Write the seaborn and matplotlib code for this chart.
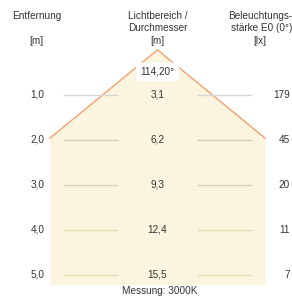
import matplotlib
matplotlib.use("Agg")
from matplotlib import pyplot as plt
import numpy as np
import pandas as pd
import seaborn as sns

# values
distance = [1.0, 2.0, 3.0, 4.0, 5.0]
distance_labels = ["1,0", "2,0", "3,0", "4,0", "5,0"]
diameter = [3.1, 6.2, 9.3, 12.4, 15.5]
diameter_labels = ["3,1", "6,2", "9,3", "12,4", "15,5"]
lux = [179, 45, 20, 11, 7]
beam_angle = "114,20°"
measurement = "Messung: 3000K"

sns.set_theme(style="white")
plt.rcParams['font.family'] = ['Liberation Sans', 'DejaVu Sans']

fig = plt.figure(figsize=(2.92, 2.96), dpi=100)
ax = fig.add_axes([0, 0, 1, 1])
ax.set_xlim(-4.45, 3.80)
ax.set_ylim(5.47, -1.11)
ax.axis("off")

txt = "#333333"
fill_col = "#fbf5df"
edge_col = "#f2a06e"

# cone: half width grows with the diameter per metre, clipped at the sides
half = diameter[0] / 2
x_edge = 3.04
d_edge = x_edge / half
d_bottom = 5.22
ys = np.array([0.0, d_edge, d_bottom])
xs = np.minimum(half * ys, x_edge)
ax.fill_betweenx(ys, -xs, xs, color=fill_col, lw=0, zorder=1)

edges = pd.DataFrame({
    "x": [0, -x_edge, 0, x_edge],
    "y": [0, d_edge, 0, d_edge],
    "side": ["l", "l", "r", "r"],
})
sns.lineplot(data=edges, x="x", y="y", units="side", estimator=None, sort=False,
             color=edge_col, lw=1.0, ax=ax, zorder=2, legend=False)

# guide lines at each distance
line_cols = ["#d6d6d6", "#cfd2b2", "#dad4b8", "#e6dcb2", "#e6dcb2"]
for d, c in zip(distance, line_cols):
    ax.hlines(d, -2.67, -1.12, color=c, lw=1.0, zorder=2)
    ax.hlines(d, 1.12, 2.67, color=c, lw=1.0, zorder=2)

fs = 7.2
for d, dl, dm, lx in zip(distance, distance_labels, diameter_labels, lux):
    ax.text(-3.39, d, dl, ha="center", va="center", fontsize=fs, color=txt, zorder=3)
    ax.text(0, d, dm, ha="center", va="center", fontsize=fs, color=txt, zorder=3)
    ax.text(3.74, d, str(lx), ha="right", va="center", fontsize=fs, color=txt, zorder=3)

# headers
ax.text(-3.42, -0.756, "Entfernung", ha="center", va="center", fontsize=fs, color=txt)
ax.text(-3.42, -0.2, "[m]", ha="center", va="center", fontsize=fs, color=txt)
ax.text(0, -0.756, "Lichtbereich /", ha="center", va="center", fontsize=fs, color=txt)
ax.text(0, -0.478, "Durchmesser", ha="center", va="center", fontsize=fs, color=txt)
ax.text(0, -0.2, "[m]", ha="center", va="center", fontsize=fs, color=txt)
ax.text(2.91, -0.756, "Beleuchtungs-", ha="center", va="center", fontsize=fs, color=txt)
ax.text(2.93, -0.478, "stärke E0 (0°)", ha="center", va="center", fontsize=fs, color=txt)
ax.text(2.9, -0.2, "[lx]", ha="center", va="center", fontsize=fs, color=txt)

ax.text(0, 0.49, beam_angle, ha="center", va="center", fontsize=fs, color=txt, zorder=4,
        bbox=dict(boxstyle="round,pad=0.45", fc="white", ec="none"))
ax.text(0.07, 5.35, measurement, ha="center", va="center", fontsize=fs, color=txt)

fig.savefig("out.png", dpi=100)
